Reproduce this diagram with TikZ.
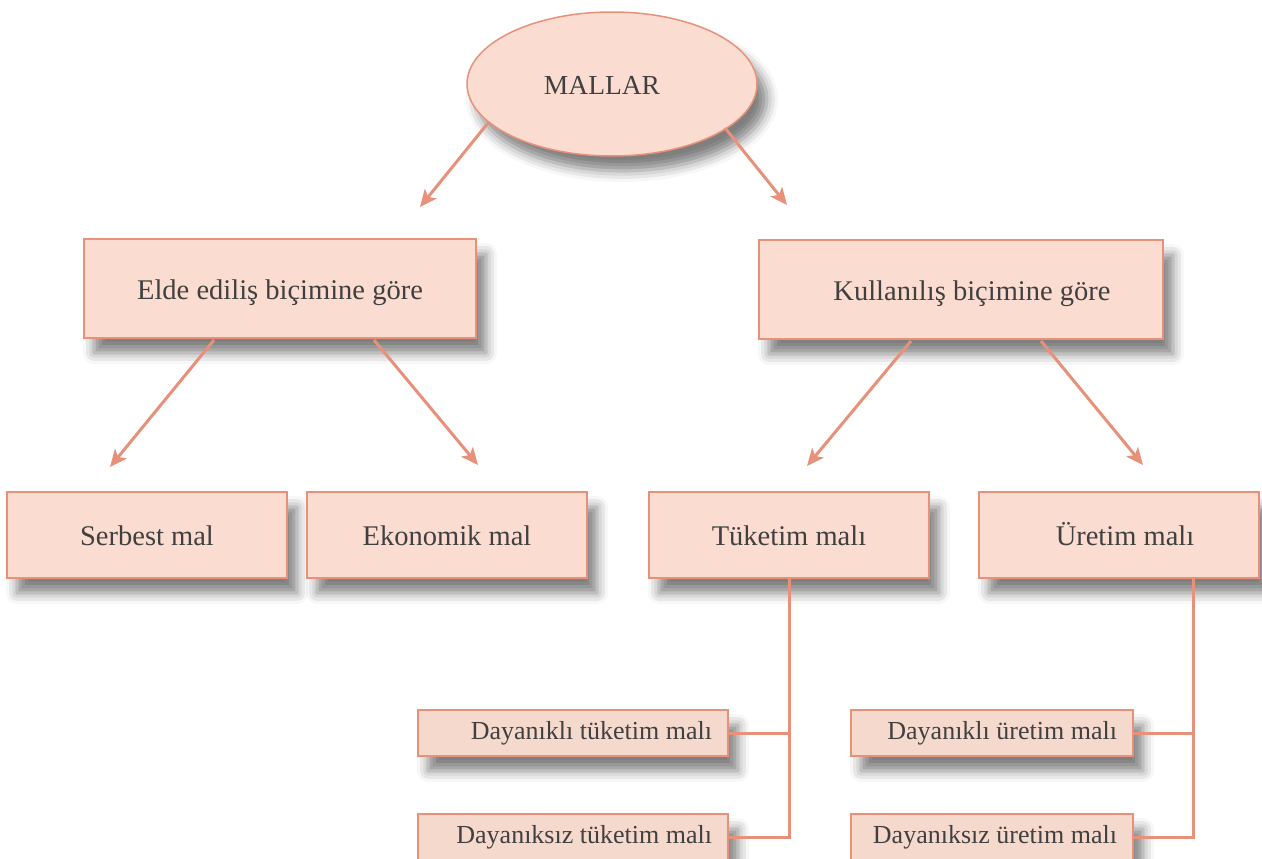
\documentclass[tikz,border=0pt]{standalone}
\usepackage{fontspec}
\setmainfont{Liberation Serif}
\usetikzlibrary{shapes.geometric,shadows.blur,arrows.meta}
\definecolor{boxfill}{HTML}{FBDCD0}
\definecolor{smallfill}{HTML}{F6D9CD}
\definecolor{edge}{HTML}{E8917A}
\definecolor{txt}{HTML}{404040}
\tikzset{
  shade/.style={blur shadow={shadow xshift=10pt, shadow yshift=-15pt, shadow blur radius=11pt, shadow opacity=50}},
  bigbox/.style={draw=edge, line width=1.5pt, fill=boxfill, shade, text=txt, inner sep=0pt,
    text height=25pt, text depth=4pt,
    font=\fontsize{28.5}{32}\selectfont},
  smallbox/.style={draw=edge, line width=1.5pt, fill=smallfill, shade, text=txt, inner ysep=0pt, inner xsep=16pt,
    minimum height=46pt, text width=278pt, align=flush right,
    font=\fontsize{26}{28}\selectfont},
  arr/.style={draw=edge, line width=3pt, -{Stealth[length=17pt,width=15pt,inset=4pt]}},
  conn/.style={draw=edge, line width=3pt},
}
\begin{document}
\begin{tikzpicture}[x=1pt,y=-1pt]
\useasboundingbox (0,0) rectangle (1262,859);
% ellipse
\node[ellipse, draw=edge, line width=1.5pt, fill=boxfill, shade, text=txt,
  minimum width=290pt, minimum height=144pt, inner sep=0pt,
  font=\fontsize{27.5}{30}\selectfont] (mallar) at (612,84) {};
\node[text=txt, font=\fontsize{27.5}{30}\selectfont, inner sep=0pt] (mallart) at (602,85) {MALLAR};
% level 1
\node[bigbox, minimum width=392pt, minimum height=99pt] (elde) at (280,288.5) {Elde ediliş biçimine göre};
\node[bigbox, minimum width=404pt, minimum height=99pt] (kull) at (961,289.5) {\hspace*{22pt}Kullanılış biçimine göre};
% level 2
\node[bigbox, minimum width=280pt, minimum height=86pt] (serb) at (147,535) {Serbest mal};
\node[bigbox, minimum width=280pt, minimum height=86pt] (ekon) at (447,535) {Ekonomik mal};
\node[bigbox, minimum width=280pt, minimum height=86pt] (tuk) at (789,535) {Tüketim malı};
\node[bigbox, minimum width=280pt, minimum height=86pt] (ur) at (1119,535) {\hspace*{12pt}Üretim malı};
% level 3
\node[smallbox] (dtuk) at (573,733) {Dayanıklı tüketim malı};
\node[smallbox] (dstuk) at (573,837) {Dayanıksız tüketim malı};
\node[smallbox, text width=250pt] (dur) at (992,733) {Dayanıklı üretim malı};
\node[smallbox, text width=250pt] (dsur) at (992,837) {Dayanıksız üretim malı};
% arrows
\coordinate (a1s) at (488,123); \coordinate (a1e) at (420,207);
\coordinate (a2s) at (725,128); \coordinate (a2e) at (787,205);
\coordinate (b1s) at (214,340); \coordinate (b1e) at (110,467);
\coordinate (b2s) at (374,340); \coordinate (b2e) at (478,465);
\coordinate (c1s) at (911,341); \coordinate (c1e) at (807,466);
\coordinate (c2s) at (1041,341); \coordinate (c2e) at (1143,465);
\draw[arr] (a1s) -- (a1e);
\draw[arr] (a2s) -- (a2e);
\draw[arr] (b1s) -- (b1e);
\draw[arr] (b2s) -- (b2e);
\draw[arr] (c1s) -- (c1e);
\draw[arr] (c2s) -- (c2e);
% bracket connectors
\draw[conn] (tuk.south) |- (dtuk.east);
\draw[conn] (tuk.south) |- (dstuk.east);
\coordinate (uj) at (1193,578);
\draw[conn] (uj) |- (dur.east);
\draw[conn] (uj) |- (dsur.east);
\end{tikzpicture}
\end{document}
